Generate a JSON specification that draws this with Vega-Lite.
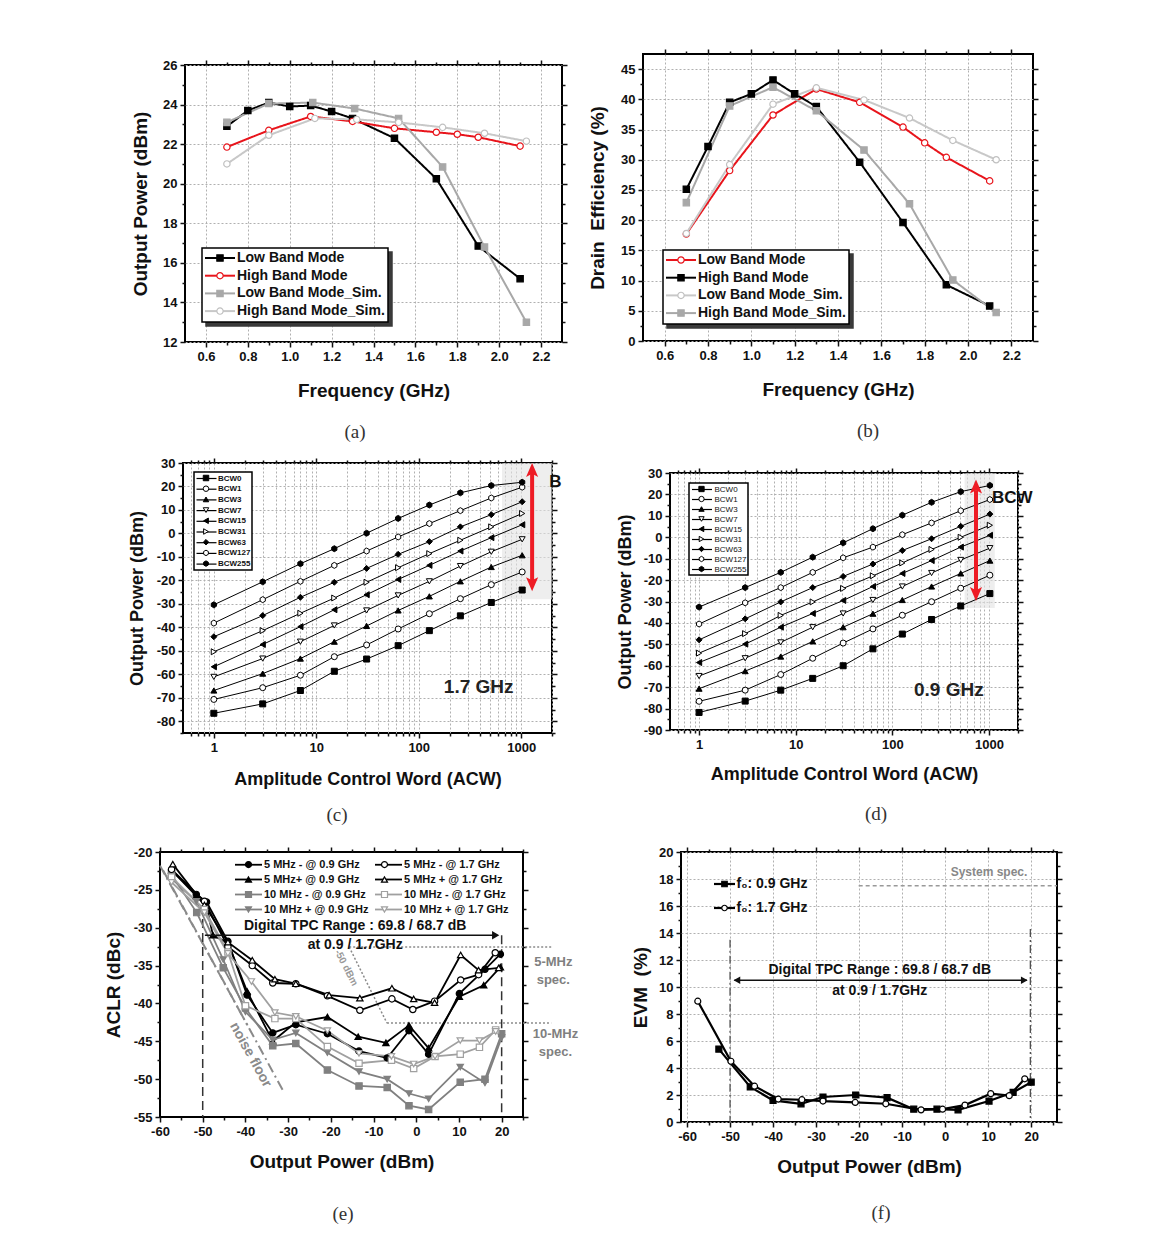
{
"$schema":"https://vega.github.io/schema/vega-lite/v6.json",
"background":"white",
"padding":{"left":103,"top":47,"right":5,"bottom":5},
"config":{
 "view":{"stroke":"black","strokeWidth":2},
 "font":"Liberation Sans",
 "axis":{"domain":false,"labelFont":"Liberation Sans","labelFontSize":13,"labelFontWeight":"bold","labelColor":"#111","titleFont":"Liberation Sans","titleFontSize":19,"titleFontWeight":"bold","titleColor":"#111","tickColor":"#111","tickWidth":1.5,"gridColor":"#b0b0b0","gridDash":[2,2],"gridWidth":1,"labelFlush":false,"labelOverlap":false,"labelPadding":3,"tickCount":1000},
 "legend":{"labelFont":"Liberation Sans","labelFontWeight":"bold","labelColor":"#111","labelLimit":400,"strokeWidth":1.5},
 "title":{"font":"Liberation Serif","fontSize":19,"fontWeight":"normal","orient":"bottom","color":"#333"},
 "text":{"font":"Liberation Sans"}
},
"resolve":{"scale":{"x":"independent","y":"independent","color":"independent","shape":"independent","fill":"independent","stroke":"independent","strokeDash":"independent"},"legend":{"color":"independent","shape":"independent","fill":"independent","stroke":"independent","strokeDash":"independent"}},
"bounds":"flush",
"spacing":380,
"vconcat":[
{
 "bounds":"flush","spacing":24,
 "resolve":{"scale":{"x":"independent","y":"independent","color":"independent","shape":"independent","fill":"independent","stroke":"independent","strokeDash":"independent"},"legend":{"color":"independent","shape":"independent","fill":"independent","stroke":"independent","strokeDash":"independent"}},
 "hconcat":[
  {"width":1,"height":1,"data":{"values":[{}]},"mark":{"type":"point","opacity":0},"view":{"stroke":null}},
  {"bounds":"flush","spacing":458,
   "resolve":{"scale":{"x":"independent","y":"independent","color":"independent","shape":"independent","fill":"independent","stroke":"independent","strokeDash":"independent"},"legend":{"color":"independent","shape":"independent","fill":"independent","stroke":"independent","strokeDash":"independent"}},
   "hconcat":[
    {"bounds":"flush","spacing":10,
     "resolve":{"scale":{"x":"independent","y":"independent","color":"independent","shape":"independent","fill":"independent","stroke":"independent","strokeDash":"independent"},"legend":{"color":"independent","shape":"independent","fill":"independent","stroke":"independent","strokeDash":"independent"}},
     "vconcat":[
      {"width":1,"height":1,"data":{"values":[{}]},"mark":{"type":"point","opacity":0},"view":{"stroke":null}},
      {"width":377,"height":277,
       "title":{"text":"(a)","dx":-18.5,"offset":23},
       "data":{"values":[
        {"s":"Low Band Mode","x":0.7,"y":22.9},{"s":"Low Band Mode","x":0.8,"y":23.7},{"s":"Low Band Mode","x":0.9,"y":24.1},{"s":"Low Band Mode","x":1.0,"y":23.9},{"s":"Low Band Mode","x":1.1,"y":23.95},{"s":"Low Band Mode","x":1.2,"y":23.65},{"s":"Low Band Mode","x":1.3,"y":23.3},{"s":"Low Band Mode","x":1.5,"y":22.3},{"s":"Low Band Mode","x":1.7,"y":20.25},{"s":"Low Band Mode","x":1.9,"y":16.85},{"s":"Low Band Mode","x":2.1,"y":15.2},
        {"s":"High Band Mode","x":0.7,"y":21.85},{"s":"High Band Mode","x":0.9,"y":22.7},{"s":"High Band Mode","x":1.1,"y":23.4},{"s":"High Band Mode","x":1.3,"y":23.15},{"s":"High Band Mode","x":1.5,"y":22.8},{"s":"High Band Mode","x":1.7,"y":22.6},{"s":"High Band Mode","x":1.8,"y":22.5},{"s":"High Band Mode","x":1.9,"y":22.35},{"s":"High Band Mode","x":2.1,"y":21.9},
        {"s":"Low Band Mode_Sim.","x":0.7,"y":23.1},{"s":"Low Band Mode_Sim.","x":0.9,"y":24.05},{"s":"Low Band Mode_Sim.","x":1.11,"y":24.1},{"s":"Low Band Mode_Sim.","x":1.31,"y":23.8},{"s":"Low Band Mode_Sim.","x":1.52,"y":23.3},{"s":"Low Band Mode_Sim.","x":1.73,"y":20.85},{"s":"Low Band Mode_Sim.","x":1.93,"y":16.8},{"s":"Low Band Mode_Sim.","x":2.13,"y":13.0},
        {"s":"High Band Mode_Sim.","x":0.7,"y":21.0},{"s":"High Band Mode_Sim.","x":0.9,"y":22.45},{"s":"High Band Mode_Sim.","x":1.12,"y":23.3},{"s":"High Band Mode_Sim.","x":1.32,"y":23.25},{"s":"High Band Mode_Sim.","x":1.52,"y":23.1},{"s":"High Band Mode_Sim.","x":1.73,"y":22.85},{"s":"High Band Mode_Sim.","x":1.93,"y":22.55},{"s":"High Band Mode_Sim.","x":2.13,"y":22.15}
       ]},
       "resolve":{"axis":{"x":"independent","y":"independent"}},
       "layer":[
        {"layer":[
        {"mark":{"type":"line","strokeWidth":2},
         "encoding":{
          "x":{"field":"x","type":"quantitative","scale":{"domain":[0.5,2.3],"nice":false,"zero":false},
               "axis":{"title":"Frequency (GHz)","tickCount":1000,"values":[0.6,0.7,0.8,0.9,1.0,1.1,1.2,1.3,1.4,1.5,1.6,1.7,1.8,1.9,2.0,2.1,2.2],"labelExpr":"abs(datum.value*5-round(datum.value*5))<0.01 ? format(datum.value,'.1f') : ''","tickSize":{"condition":{"test":"abs(datum.value*5-round(datum.value*5))<0.01","value":5},"value":3},"gridOpacity":{"condition":{"test":"abs(datum.value*5-round(datum.value*5))<0.01","value":1},"value":0},"titlePadding":18}},
          "y":{"field":"y","type":"quantitative","scale":{"domain":[12,26],"nice":false,"zero":false},
               "axis":{"title":"Output Power (dBm)","tickCount":1000,"values":[12,13,14,15,16,17,18,19,20,21,22,23,24,25,26],"labelExpr":"datum.value%2==0 ? ''+datum.value : ''","tickSize":{"condition":{"test":"datum.value%2==0","value":5},"value":3},"gridOpacity":{"condition":{"test":"datum.value%2==0","value":1},"value":0},"titlePadding":12}},
          "color":{"field":"s","type":"nominal","scale":{"domain":["Low Band Mode","High Band Mode","Low Band Mode_Sim.","High Band Mode_Sim."],"range":["#000000","#e8141b","#a8a8a8","#c8c8c8"]},
                   "legend":{"orient":"none","legendX":17,"legendY":183,"title":null,"padding":3,"rowPadding":3.7,"labelFontSize":14,"symbolType":"M-7.5,0H7.5","symbolSize":16,"symbolStrokeWidth":2,"symbolOffset":8,"labelOffset":10,"strokeColor":"black","fillColor":"white","zindex":1}},
          "strokeDash":{"field":"s","type":"nominal","scale":{"domain":["High Band Mode_Sim.","Low Band Mode_Sim.","High Band Mode","Low Band Mode"],"range":[[1,0],[1,0],[1,0],[1,0]]},
                   "legend":{"orient":"none","legendX":21,"legendY":187,"title":null,"padding":3,"rowPadding":3.7,"labelFontSize":14,"symbolType":"M-7.5,0H7.5","symbolSize":16,"symbolStrokeWidth":2,"symbolOffset":8,"labelOffset":10,"symbolOpacity":0,"labelOpacity":0,"strokeColor":"#3a3a3a","fillColor":"#3a3a3a","zindex":0}}}},
        {"mark":{"type":"point","filled":true,"size":40,"strokeWidth":1.2,"opacity":1},
         "encoding":{
          "x":{"field":"x","type":"quantitative","scale":{"domain":[0.5,2.3],"nice":false,"zero":false}},
          "y":{"field":"y","type":"quantitative","scale":{"domain":[12,26],"nice":false,"zero":false}},
          "shape":{"field":"s","type":"nominal","sort":null,"scale":{"range":["square","circle","square","circle"]},"legend":{"orient":"none","legendX":17,"legendY":183,"title":null,"padding":3,"rowPadding":3.7,"labelFontSize":14,"symbolSize":40,"symbolStrokeWidth":1.2,"symbolOffset":8,"labelOffset":10,"labelExpr":"''","zindex":2}},
          "fill":{"field":"s","type":"nominal","sort":null,"scale":{"range":["#000000","#ffffff","#a8a8a8","#ffffff"]},"legend":{"orient":"none","legendX":17,"legendY":183,"title":null,"padding":3,"rowPadding":3.7,"labelFontSize":14,"symbolSize":40,"symbolStrokeWidth":1.2,"symbolOffset":8,"labelOffset":10,"labelExpr":"''","zindex":2}},
          "stroke":{"field":"s","type":"nominal","sort":null,"scale":{"range":["#000000","#e8141b","#a8a8a8","#c0c0c0"]},"legend":{"orient":"none","legendX":17,"legendY":183,"title":null,"padding":3,"rowPadding":3.7,"labelFontSize":14,"symbolSize":40,"symbolStrokeWidth":1.2,"symbolOffset":8,"labelOffset":10,"labelExpr":"''","zindex":2}}}}
        ]},
        {"mark":{"type":"point","opacity":0},
         "encoding":{
          "x":{"field":"x","type":"quantitative","scale":{"domain":[0.5,2.3],"nice":false,"zero":false},"axis":{"orient":"top","labels":false,"title":null,"grid":false,"tickCount":1000,"values":[0.6,0.7,0.8,0.9,1.0,1.1,1.2,1.3,1.4,1.5,1.6,1.7,1.8,1.9,2.0,2.1,2.2],"tickSize":{"condition":{"test":"abs(datum.value*5-round(datum.value*5))<0.01","value":5},"value":3}}},
          "y":{"field":"y","type":"quantitative","scale":{"domain":[12,26],"nice":false,"zero":false},"axis":{"orient":"right","labels":false,"title":null,"grid":false,"tickCount":1000,"values":[12,13,14,15,16,17,18,19,20,21,22,23,24,25,26],"tickSize":{"condition":{"test":"datum.value%2==0","value":5},"value":3}}}}}
       ]}
     ]},
    {"width":390,"height":287,
     "title":{"text":"(b)","dx":30,"offset":23},
     "data":{"values":[
      {"s":"Low Band Mode","x":0.7,"y":17.7},{"s":"Low Band Mode","x":0.9,"y":28.2},{"s":"Low Band Mode","x":1.1,"y":37.4},{"s":"Low Band Mode","x":1.3,"y":41.7},{"s":"Low Band Mode","x":1.5,"y":39.5},{"s":"Low Band Mode","x":1.7,"y":35.4},{"s":"Low Band Mode","x":1.8,"y":32.8},{"s":"Low Band Mode","x":1.9,"y":30.4},{"s":"Low Band Mode","x":2.1,"y":26.5},
      {"s":"High Band Mode","x":0.7,"y":25.1},{"s":"High Band Mode","x":0.8,"y":32.2},{"s":"High Band Mode","x":0.9,"y":39.5},{"s":"High Band Mode","x":1.0,"y":40.9},{"s":"High Band Mode","x":1.1,"y":43.2},{"s":"High Band Mode","x":1.2,"y":40.9},{"s":"High Band Mode","x":1.3,"y":38.8},{"s":"High Band Mode","x":1.5,"y":29.6},{"s":"High Band Mode","x":1.7,"y":19.6},{"s":"High Band Mode","x":1.9,"y":9.3},{"s":"High Band Mode","x":2.1,"y":5.8},
      {"s":"Low Band Mode_Sim.","x":0.7,"y":17.8},{"s":"Low Band Mode_Sim.","x":0.9,"y":29.2},{"s":"Low Band Mode_Sim.","x":1.1,"y":39.2},{"s":"Low Band Mode_Sim.","x":1.3,"y":41.9},{"s":"Low Band Mode_Sim.","x":1.52,"y":39.9},{"s":"Low Band Mode_Sim.","x":1.73,"y":36.9},{"s":"Low Band Mode_Sim.","x":1.93,"y":33.2},{"s":"Low Band Mode_Sim.","x":2.13,"y":30.0},
      {"s":"High Band Mode_Sim.","x":0.7,"y":22.9},{"s":"High Band Mode_Sim.","x":0.9,"y":38.9},{"s":"High Band Mode_Sim.","x":1.1,"y":42.0},{"s":"High Band Mode_Sim.","x":1.3,"y":38.1},{"s":"High Band Mode_Sim.","x":1.52,"y":31.6},{"s":"High Band Mode_Sim.","x":1.73,"y":22.7},{"s":"High Band Mode_Sim.","x":1.93,"y":10.1},{"s":"High Band Mode_Sim.","x":2.13,"y":4.7}
     ]},
     "resolve":{"axis":{"x":"independent","y":"independent"}},
     "layer":[
      {"layer":[
      {"mark":{"type":"line","strokeWidth":2},
       "encoding":{
        "x":{"field":"x","type":"quantitative","scale":{"domain":[0.5,2.3],"nice":false,"zero":false},
             "axis":{"title":"Frequency (GHz)","tickCount":1000,"values":[0.6,0.7,0.8,0.9,1.0,1.1,1.2,1.3,1.4,1.5,1.6,1.7,1.8,1.9,2.0,2.1,2.2],"labelExpr":"abs(datum.value*5-round(datum.value*5))<0.01 ? format(datum.value,'.1f') : ''","tickSize":{"condition":{"test":"abs(datum.value*5-round(datum.value*5))<0.01","value":5},"value":3},"gridOpacity":{"condition":{"test":"abs(datum.value*5-round(datum.value*5))<0.01","value":1},"value":0},"titlePadding":18}},
        "y":{"field":"y","type":"quantitative","scale":{"domain":[0,47.5],"nice":false,"zero":false},
             "axis":{"title":"Drain\u00a0\u00a0Efficiency (%)","tickCount":1000,"values":[0,2.5,5,7.5,10,12.5,15,17.5,20,22.5,25,27.5,30,32.5,35,37.5,40,42.5,45],"labelExpr":"datum.value%5==0 ? ''+datum.value : ''","tickSize":{"condition":{"test":"datum.value%5==0","value":5},"value":3},"gridOpacity":{"condition":{"test":"datum.value%5==0","value":1},"value":0},"titlePadding":13}},
        "color":{"field":"s","type":"nominal","scale":{"domain":["Low Band Mode","High Band Mode","Low Band Mode_Sim.","High Band Mode_Sim."],"range":["#e8141b","#000000","#c8c8c8","#a8a8a8"]},
                 "legend":{"orient":"none","legendX":20,"legendY":196,"title":null,"padding":3,"rowPadding":3.7,"labelFontSize":14,"symbolType":"M-7.5,0H7.5","symbolSize":16,"symbolStrokeWidth":2,"symbolOffset":8,"labelOffset":10,"strokeColor":"black","fillColor":"white","zindex":1}},
        "strokeDash":{"field":"s","type":"nominal","scale":{"domain":["High Band Mode_Sim.","Low Band Mode_Sim.","High Band Mode","Low Band Mode"],"range":[[1,0],[1,0],[1,0],[1,0]]},
                 "legend":{"orient":"none","legendX":24,"legendY":200,"title":null,"padding":3,"rowPadding":3.7,"labelFontSize":14,"symbolType":"M-7.5,0H7.5","symbolSize":16,"symbolStrokeWidth":2,"symbolOffset":8,"labelOffset":10,"symbolOpacity":0,"labelOpacity":0,"strokeColor":"#3a3a3a","fillColor":"#3a3a3a","zindex":0}}}},
      {"mark":{"type":"point","filled":true,"size":40,"strokeWidth":1.2,"opacity":1},
       "encoding":{
        "x":{"field":"x","type":"quantitative","scale":{"domain":[0.5,2.3],"nice":false,"zero":false}},
        "y":{"field":"y","type":"quantitative","scale":{"domain":[0,47.5],"nice":false,"zero":false}},
        "shape":{"field":"s","type":"nominal","sort":null,"scale":{"range":["circle","square","circle","square"]},"legend":{"orient":"none","legendX":20,"legendY":196,"title":null,"padding":3,"rowPadding":3.7,"labelFontSize":14,"symbolSize":40,"symbolStrokeWidth":1.2,"symbolOffset":8,"labelOffset":10,"labelExpr":"''","zindex":2}},
        "fill":{"field":"s","type":"nominal","sort":null,"scale":{"range":["#ffffff","#000000","#ffffff","#a8a8a8"]},"legend":{"orient":"none","legendX":20,"legendY":196,"title":null,"padding":3,"rowPadding":3.7,"labelFontSize":14,"symbolSize":40,"symbolStrokeWidth":1.2,"symbolOffset":8,"labelOffset":10,"labelExpr":"''","zindex":2}},
        "stroke":{"field":"s","type":"nominal","sort":null,"scale":{"range":["#e8141b","#000000","#c0c0c0","#a8a8a8"]},"legend":{"orient":"none","legendX":20,"legendY":196,"title":null,"padding":3,"rowPadding":3.7,"labelFontSize":14,"symbolSize":40,"symbolStrokeWidth":1.2,"symbolOffset":8,"labelOffset":10,"labelExpr":"''","zindex":2}}}}
      ]},
      {"mark":{"type":"point","opacity":0},
       "encoding":{
        "x":{"field":"x","type":"quantitative","scale":{"domain":[0.5,2.3],"nice":false,"zero":false},"axis":{"orient":"top","labels":false,"title":null,"grid":false,"tickCount":1000,"values":[0.6,0.7,0.8,0.9,1.0,1.1,1.2,1.3,1.4,1.5,1.6,1.7,1.8,1.9,2.0,2.1,2.2],"tickSize":{"condition":{"test":"abs(datum.value*5-round(datum.value*5))<0.01","value":5},"value":3}}},
        "y":{"field":"y","type":"quantitative","scale":{"domain":[0,47.5],"nice":false,"zero":false},"axis":{"orient":"right","labels":false,"title":null,"grid":false,"tickCount":1000,"values":[0,2.5,5,7.5,10,12.5,15,17.5,20,22.5,25,27.5,30,32.5,35,37.5,40,42.5,45],"tickSize":{"condition":{"test":"datum.value%5==0","value":5},"value":3}}}}}
     ]}
   ]}
 ]
},
{
 "bounds":"flush","spacing":28,
 "resolve":{"scale":{"x":"independent","y":"independent","color":"independent","shape":"independent","fill":"independent","stroke":"independent","strokeDash":"independent"},"legend":{"color":"independent","shape":"independent","fill":"independent","stroke":"independent","strokeDash":"independent"}},
 "vconcat":[
 {"width":1,"height":1,"data":{"values":[{}]},"mark":{"type":"point","opacity":0},"view":{"stroke":null}},
 {
 "bounds":"flush","spacing":22,
 "resolve":{"scale":{"x":"independent","y":"independent","color":"independent","shape":"independent","fill":"independent","stroke":"independent","strokeDash":"independent"},"legend":{"color":"independent","shape":"independent","fill":"independent","stroke":"independent","strokeDash":"independent"}},
 "hconcat":[
  {"width":1,"height":1,"data":{"values":[{}]},"mark":{"type":"point","opacity":0},"view":{"stroke":null}},
  {"bounds":"flush","spacing":118,
   "resolve":{"scale":{"x":"independent","y":"independent","color":"independent","shape":"independent","fill":"independent","stroke":"independent","strokeDash":"independent"},"legend":{"color":"independent","shape":"independent","fill":"independent","stroke":"independent","strokeDash":"independent"}},
   "hconcat":[
    {"width":369,"height":270,
     "title":{"text":"(c)","dx":-30.5,"offset":18},
     "data":{"values":[
      {"s":"BCW0","x":1,"y":-76.6},{"s":"BCW0","x":3,"y":-72.6},{"s":"BCW0","x":7,"y":-66.9},{"s":"BCW0","x":15,"y":-58.7},{"s":"BCW0","x":31,"y":-53.5},{"s":"BCW0","x":63,"y":-47.8},{"s":"BCW0","x":127,"y":-41.4},{"s":"BCW0","x":255,"y":-35.1},{"s":"BCW0","x":511,"y":-29.4},{"s":"BCW0","x":1023,"y":-24.1},
      {"s":"BCW1","x":1,"y":-70.7},{"s":"BCW1","x":3,"y":-65.7},{"s":"BCW1","x":7,"y":-60.4},{"s":"BCW1","x":15,"y":-52.5},{"s":"BCW1","x":31,"y":-47.5},{"s":"BCW1","x":63,"y":-40.7},{"s":"BCW1","x":127,"y":-34.2},{"s":"BCW1","x":255,"y":-27.8},{"s":"BCW1","x":511,"y":-21.8},{"s":"BCW1","x":1023,"y":-16.4},
      {"s":"BCW3","x":1,"y":-66.9},{"s":"BCW3","x":3,"y":-59.7},{"s":"BCW3","x":7,"y":-53.3},{"s":"BCW3","x":15,"y":-46.1},{"s":"BCW3","x":31,"y":-39.4},{"s":"BCW3","x":63,"y":-32.8},{"s":"BCW3","x":127,"y":-26.8},{"s":"BCW3","x":255,"y":-20.4},{"s":"BCW3","x":511,"y":-14.3},{"s":"BCW3","x":1023,"y":-9.3},
      {"s":"BCW7","x":1,"y":-61.1},{"s":"BCW7","x":3,"y":-53.3},{"s":"BCW7","x":7,"y":-46.1},{"s":"BCW7","x":15,"y":-39.2},{"s":"BCW7","x":31,"y":-32.8},{"s":"BCW7","x":63,"y":-26.4},{"s":"BCW7","x":127,"y":-20.4},{"s":"BCW7","x":255,"y":-13.9},{"s":"BCW7","x":511,"y":-7.8},{"s":"BCW7","x":1023,"y":-2.5},
      {"s":"BCW15","x":1,"y":-56.8},{"s":"BCW15","x":3,"y":-47.3},{"s":"BCW15","x":7,"y":-39.7},{"s":"BCW15","x":15,"y":-32.5},{"s":"BCW15","x":31,"y":-26.1},{"s":"BCW15","x":63,"y":-19.6},{"s":"BCW15","x":127,"y":-13.6},{"s":"BCW15","x":255,"y":-7.5},{"s":"BCW15","x":511,"y":-1.8},{"s":"BCW15","x":1023,"y":3.7},
      {"s":"BCW31","x":1,"y":-50.4},{"s":"BCW31","x":3,"y":-41.4},{"s":"BCW31","x":7,"y":-34.0},{"s":"BCW31","x":15,"y":-27.5},{"s":"BCW31","x":31,"y":-20.8},{"s":"BCW31","x":63,"y":-14.6},{"s":"BCW31","x":127,"y":-8.6},{"s":"BCW31","x":255,"y":-2.9},{"s":"BCW31","x":511,"y":2.8},{"s":"BCW31","x":1023,"y":8.5},
      {"s":"BCW63","x":1,"y":-44.0},{"s":"BCW63","x":3,"y":-35.0},{"s":"BCW63","x":7,"y":-27.2},{"s":"BCW63","x":15,"y":-20.8},{"s":"BCW63","x":31,"y":-14.9},{"s":"BCW63","x":63,"y":-8.9},{"s":"BCW63","x":127,"y":-3.5},{"s":"BCW63","x":255,"y":2.8},{"s":"BCW63","x":511,"y":8.0},{"s":"BCW63","x":1023,"y":13.5},
      {"s":"BCW127","x":1,"y":-38.2},{"s":"BCW127","x":3,"y":-28.2},{"s":"BCW127","x":7,"y":-20.4},{"s":"BCW127","x":15,"y":-13.6},{"s":"BCW127","x":31,"y":-7.5},{"s":"BCW127","x":63,"y":-1.5},{"s":"BCW127","x":127,"y":4.2},{"s":"BCW127","x":255,"y":9.7},{"s":"BCW127","x":511,"y":15.1},{"s":"BCW127","x":1023,"y":19.7},
      {"s":"BCW255","x":1,"y":-30.4},{"s":"BCW255","x":3,"y":-20.6},{"s":"BCW255","x":7,"y":-12.9},{"s":"BCW255","x":15,"y":-6.5},{"s":"BCW255","x":31,"y":0.1},{"s":"BCW255","x":63,"y":6.4},{"s":"BCW255","x":127,"y":12.1},{"s":"BCW255","x":255,"y":17.3},{"s":"BCW255","x":511,"y":20.4},{"s":"BCW255","x":1023,"y":21.8}
     ]},
     "resolve":{"axis":{"x":"independent","y":"independent"}},
     "layer":[
      {"layer":[
      {"data":{"values":[{"x":650,"x2":2000,"y":-28,"y2":30}]},
       "mark":{"type":"rect","color":"#e2e2e2","opacity":0.6},
       "encoding":{
        "x":{"field":"x","type":"quantitative","scale":{"type":"log","domain":[0.5,2000],"nice":false},
             "axis":{"title":"Amplitude Control Word (ACW)","titleFontSize":18,"tickCount":1000,"values":[0.6,0.7,0.8,0.9,1,2,3,4,5,6,7,8,9,10,20,30,40,50,60,70,80,90,100,200,300,400,500,600,700,800,900,1000,2000],"labelExpr":"indexof([1,10,100,1000],datum.value)>=0 ? ''+datum.value : ''","tickSize":{"condition":{"test":"indexof([1,10,100,1000],datum.value)>=0","value":5},"value":3},"titlePadding":16}},
        "x2":{"field":"x2"},
        "y":{"field":"y","type":"quantitative","scale":{"domain":[-85,30],"nice":false,"zero":false},
             "axis":{"title":"Output Power (dBm)","titleFontSize":18,"tickCount":1000,"values":[-85,-80,-75,-70,-65,-60,-55,-50,-45,-40,-35,-30,-25,-20,-15,-10,-5,0,5,10,15,20,25,30],"labelExpr":"datum.value%10==0 ? ''+datum.value : ''","tickSize":{"condition":{"test":"datum.value%10==0","value":5},"value":3},"gridOpacity":{"condition":{"test":"datum.value%10==0","value":1},"value":0},"titlePadding":10}},
        "y2":{"field":"y2"}}},
      {"mark":{"type":"line","strokeWidth":1},
       "encoding":{
        "x":{"field":"x","type":"quantitative","scale":{"type":"log","domain":[0.5,2000],"nice":false}},
        "y":{"field":"y","type":"quantitative","scale":{"domain":[-85,30],"nice":false,"zero":false}},
        "color":{"field":"s","type":"nominal","scale":{"domain":["BCW0","BCW1","BCW3","BCW7","BCW15","BCW31","BCW63","BCW127","BCW255"],"range":["#000","#000","#000","#000","#000","#000","#000","#000","#000"]},
                 "legend":{"orient":"none","legendX":11,"legendY":9,"title":null,"padding":1,"rowPadding":0.7,"labelFontSize":8,"symbolType":"M-2.222,0H2.222","symbolSize":81,"symbolStrokeWidth":1.2,"symbolOffset":6,"labelOffset":6,"strokeColor":"black","fillColor":"white"}}}},
      {"mark":{"type":"point","filled":true,"size":36,"strokeWidth":1,"opacity":1},
       "encoding":{
        "x":{"field":"x","type":"quantitative","scale":{"type":"log","domain":[0.5,2000],"nice":false}},
        "y":{"field":"y","type":"quantitative","scale":{"domain":[-85,30],"nice":false,"zero":false}},
        "shape":{"field":"s","type":"nominal","sort":null,"scale":{"range":["square","circle","triangle-up","triangle-down","triangle-left","triangle-right","diamond","M0,-1L0.866,-0.5L0.866,0.5L0,1L-0.866,0.5L-0.866,-0.5Z","M0,-1L0.866,-0.5L0.866,0.5L0,1L-0.866,0.5L-0.866,-0.5Z"]},"legend":{"orient":"none","legendX":11,"legendY":9,"title":null,"padding":1,"rowPadding":0.7,"labelFontSize":10,"symbolSize":30,"symbolStrokeWidth":1,"symbolOffset":6,"labelOffset":6,"labelExpr":"''"}},
        "fill":{"field":"s","type":"nominal","sort":null,"scale":{"range":["#000","#fff","#000","#fff","#000","#fff","#000","#fff","#000"]},"legend":{"orient":"none","legendX":11,"legendY":9,"title":null,"padding":1,"rowPadding":0.7,"labelFontSize":10,"symbolSize":30,"symbolStrokeWidth":1,"symbolOffset":6,"labelOffset":6,"labelExpr":"''"}},
        "stroke":{"field":"s","type":"nominal","sort":null,"scale":{"range":["#000","#000","#000","#000","#000","#000","#000","#000","#000"]},"legend":{"orient":"none","legendX":11,"legendY":9,"title":null,"padding":1,"rowPadding":0.7,"labelFontSize":10,"symbolSize":30,"symbolStrokeWidth":1,"symbolOffset":6,"labelOffset":6,"labelExpr":"''"}}}},
      {"data":{"values":[{"x":1279,"y":-21,"y2":26}]},
       "mark":{"type":"rule","color":"#ee1c25","strokeWidth":4},
       "encoding":{"x":{"field":"x","type":"quantitative","scale":{"type":"log","domain":[0.5,2000],"nice":false}},"y":{"field":"y","type":"quantitative","scale":{"domain":[-85,30],"nice":false,"zero":false}},"y2":{"field":"y2"}}},
      {"data":{"values":[{"x":1279,"y":26.3}]},
       "mark":{"type":"point","shape":"M0,-1L0.7,0.6L0,0.25L-0.7,0.6Z","size":300,"filled":true,"color":"#ee1c25","opacity":1},
       "encoding":{"x":{"field":"x","type":"quantitative","scale":{"type":"log","domain":[0.5,2000],"nice":false}},"y":{"field":"y","type":"quantitative","scale":{"domain":[-85,30],"nice":false,"zero":false}}}},
      {"data":{"values":[{"x":1279,"y":-20.9}]},
       "mark":{"type":"point","shape":"M0,1L0.7,-0.6L0,-0.25L-0.7,-0.6Z","size":300,"filled":true,"color":"#ee1c25","opacity":1},
       "encoding":{"x":{"field":"x","type":"quantitative","scale":{"type":"log","domain":[0.5,2000],"nice":false}},"y":{"field":"y","type":"quantitative","scale":{"domain":[-85,30],"nice":false,"zero":false}}}},
      {"data":{"values":[{"x":385,"y":-65.5,"t":"1.7 GHz"}]},
       "mark":{"type":"text","fontSize":19,"fontWeight":"bold","color":"#222"},
       "encoding":{"x":{"field":"x","type":"quantitative","scale":{"type":"log","domain":[0.5,2000],"nice":false}},"y":{"field":"y","type":"quantitative","scale":{"domain":[-85,30],"nice":false,"zero":false}},"text":{"field":"t"}}},
      {"data":{"values":[{"x":1880,"y":21.9,"t":"B"}]},
       "mark":{"type":"text","fontSize":17,"fontWeight":"bold","color":"#111","align":"left"},
       "encoding":{"x":{"field":"x","type":"quantitative","scale":{"type":"log","domain":[0.5,2000],"nice":false}},"y":{"field":"y","type":"quantitative","scale":{"domain":[-85,30],"nice":false,"zero":false}},"text":{"field":"t"}}}
      ]},
      {"mark":{"type":"point","opacity":0},
       "encoding":{
        "x":{"field":"x","type":"quantitative","scale":{"type":"log","domain":[0.5,2000],"nice":false},"axis":{"orient":"top","labels":false,"title":null,"grid":false,"tickCount":1000,"values":[0.6,0.7,0.8,0.9,1,2,3,4,5,6,7,8,9,10,20,30,40,50,60,70,80,90,100,200,300,400,500,600,700,800,900,1000,2000],"tickSize":{"condition":{"test":"indexof([1,10,100,1000],datum.value)>=0","value":5},"value":3}}},
        "y":{"field":"y","type":"quantitative","scale":{"domain":[-85,30],"nice":false,"zero":false},"axis":{"orient":"right","labels":false,"title":null,"grid":false,"tickCount":1000,"values":[-85,-80,-75,-70,-65,-60,-55,-50,-45,-40,-35,-30,-25,-20,-15,-10,-5,0,5,10,15,20,25,30],"tickSize":{"condition":{"test":"datum.value%10==0","value":5},"value":3}}}}}
     ]},
    {"bounds":"flush","spacing":9,
     "resolve":{"scale":{"x":"independent","y":"independent","color":"independent","shape":"independent","fill":"independent","stroke":"independent","strokeDash":"independent"},"legend":{"color":"independent","shape":"independent","fill":"independent","stroke":"independent","strokeDash":"independent"}},
     "vconcat":[
      {"width":1,"height":1,"data":{"values":[{}]},"mark":{"type":"point","opacity":0},"view":{"stroke":null}},
      {"width":348,"height":257,
       "title":{"text":"(d)","dx":32,"offset":22},
       "data":{"values":[
        {"s":"BCW0","x":1,"y":-81.8},{"s":"BCW0","x":3,"y":-76.5},{"s":"BCW0","x":7,"y":-71.4},{"s":"BCW0","x":15,"y":-65.9},{"s":"BCW0","x":31,"y":-60.0},{"s":"BCW0","x":63,"y":-52.1},{"s":"BCW0","x":127,"y":-45.2},{"s":"BCW0","x":255,"y":-38.4},{"s":"BCW0","x":511,"y":-32.1},{"s":"BCW0","x":1023,"y":-26.3},
        {"s":"BCW1","x":1,"y":-76.6},{"s":"BCW1","x":3,"y":-71.4},{"s":"BCW1","x":7,"y":-64.1},{"s":"BCW1","x":15,"y":-56.5},{"s":"BCW1","x":31,"y":-49.4},{"s":"BCW1","x":63,"y":-42.8},{"s":"BCW1","x":127,"y":-36.4},{"s":"BCW1","x":255,"y":-30.1},{"s":"BCW1","x":511,"y":-23.8},{"s":"BCW1","x":1023,"y":-17.7},
        {"s":"BCW3","x":1,"y":-70.7},{"s":"BCW3","x":3,"y":-62.5},{"s":"BCW3","x":7,"y":-55.7},{"s":"BCW3","x":15,"y":-48.6},{"s":"BCW3","x":31,"y":-42.0},{"s":"BCW3","x":63,"y":-35.7},{"s":"BCW3","x":127,"y":-29.3},{"s":"BCW3","x":255,"y":-23.0},{"s":"BCW3","x":511,"y":-16.9},{"s":"BCW3","x":1023,"y":-10.9},
        {"s":"BCW7","x":1,"y":-64.8},{"s":"BCW7","x":3,"y":-56.5},{"s":"BCW7","x":7,"y":-49.1},{"s":"BCW7","x":15,"y":-42.0},{"s":"BCW7","x":31,"y":-35.6},{"s":"BCW7","x":63,"y":-29.3},{"s":"BCW7","x":127,"y":-23.0},{"s":"BCW7","x":255,"y":-16.7},{"s":"BCW7","x":511,"y":-10.6},{"s":"BCW7","x":1023,"y":-5.1},
        {"s":"BCW15","x":1,"y":-58.5},{"s":"BCW15","x":3,"y":-49.9},{"s":"BCW15","x":7,"y":-42.0},{"s":"BCW15","x":15,"y":-35.6},{"s":"BCW15","x":31,"y":-29.5},{"s":"BCW15","x":63,"y":-23.0},{"s":"BCW15","x":127,"y":-16.9},{"s":"BCW15","x":255,"y":-10.9},{"s":"BCW15","x":511,"y":-4.6},{"s":"BCW15","x":1023,"y":0.9},
        {"s":"BCW31","x":1,"y":-54.1},{"s":"BCW31","x":3,"y":-45.0},{"s":"BCW31","x":7,"y":-36.5},{"s":"BCW31","x":15,"y":-30.2},{"s":"BCW31","x":31,"y":-23.9},{"s":"BCW31","x":63,"y":-18.0},{"s":"BCW31","x":127,"y":-12.0},{"s":"BCW31","x":255,"y":-5.7},{"s":"BCW31","x":511,"y":0.0},{"s":"BCW31","x":1023,"y":5.6},
        {"s":"BCW63","x":1,"y":-47.9},{"s":"BCW63","x":3,"y":-38.1},{"s":"BCW63","x":7,"y":-30.2},{"s":"BCW63","x":15,"y":-23.5},{"s":"BCW63","x":31,"y":-18.3},{"s":"BCW63","x":63,"y":-12.5},{"s":"BCW63","x":127,"y":-6.2},{"s":"BCW63","x":255,"y":-0.7},{"s":"BCW63","x":511,"y":5.1},{"s":"BCW63","x":1023,"y":10.8},
        {"s":"BCW127","x":1,"y":-40.5},{"s":"BCW127","x":3,"y":-30.6},{"s":"BCW127","x":7,"y":-23.5},{"s":"BCW127","x":15,"y":-16.4},{"s":"BCW127","x":31,"y":-9.6},{"s":"BCW127","x":63,"y":-4.6},{"s":"BCW127","x":127,"y":1.2},{"s":"BCW127","x":255,"y":6.7},{"s":"BCW127","x":511,"y":12.4},{"s":"BCW127","x":1023,"y":17.6},
        {"s":"BCW255","x":1,"y":-32.6},{"s":"BCW255","x":3,"y":-23.5},{"s":"BCW255","x":7,"y":-16.4},{"s":"BCW255","x":15,"y":-9.3},{"s":"BCW255","x":31,"y":-2.6},{"s":"BCW255","x":63,"y":4.0},{"s":"BCW255","x":127,"y":10.3},{"s":"BCW255","x":255,"y":16.3},{"s":"BCW255","x":511,"y":21.3},{"s":"BCW255","x":1023,"y":24.2}
       ]},
       "resolve":{"axis":{"x":"independent","y":"independent"}},
       "layer":[
        {"layer":[
        {"data":{"values":[{"x":560,"x2":1150,"y":-33,"y2":30}]},
         "mark":{"type":"rect","color":"#e2e2e2","opacity":0.6},
         "encoding":{
          "x":{"field":"x","type":"quantitative","scale":{"type":"log","domain":[0.5,2000],"nice":false},
               "axis":{"title":"Amplitude Control Word (ACW)","titleFontSize":18,"tickCount":1000,"values":[0.6,0.7,0.8,0.9,1,2,3,4,5,6,7,8,9,10,20,30,40,50,60,70,80,90,100,200,300,400,500,600,700,800,900,1000,2000],"labelExpr":"indexof([1,10,100,1000],datum.value)>=0 ? ''+datum.value : ''","tickSize":{"condition":{"test":"indexof([1,10,100,1000],datum.value)>=0","value":5},"value":3},"titlePadding":14}},
          "x2":{"field":"x2"},
          "y":{"field":"y","type":"quantitative","scale":{"domain":[-90,30],"nice":false,"zero":false},
               "axis":{"title":"Output Power (dBm)","titleFontSize":18,"tickCount":1000,"values":[-90,-85,-80,-75,-70,-65,-60,-55,-50,-45,-40,-35,-30,-25,-20,-15,-10,-5,0,5,10,15,20,25,30],"labelExpr":"datum.value%10==0 ? ''+datum.value : ''","tickSize":{"condition":{"test":"datum.value%10==0","value":5},"value":3},"gridOpacity":{"condition":{"test":"datum.value%10==0","value":1},"value":0},"titlePadding":9}},
          "y2":{"field":"y2"}}},
        {"mark":{"type":"line","strokeWidth":1},
         "encoding":{
          "x":{"field":"x","type":"quantitative","scale":{"type":"log","domain":[0.5,2000],"nice":false}},
          "y":{"field":"y","type":"quantitative","scale":{"domain":[-90,30],"nice":false,"zero":false}},
          "color":{"field":"s","type":"nominal","scale":{"domain":["BCW0","BCW1","BCW3","BCW7","BCW15","BCW31","BCW63","BCW127","BCW255"],"range":["#000","#000","#000","#000","#000","#000","#000","#000","#000"]},
                   "legend":{"orient":"none","legendX":19,"legendY":10,"title":null,"padding":1,"rowPadding":-0.6,"labelFontSize":8,"labelFontWeight":"normal","symbolType":"M-2.222,0H2.222","symbolSize":81,"symbolStrokeWidth":1.2,"symbolOffset":6.5,"labelOffset":7,"strokeColor":"black","fillColor":"white"}}}},
        {"mark":{"type":"point","filled":true,"size":36,"strokeWidth":1,"opacity":1},
         "encoding":{
          "x":{"field":"x","type":"quantitative","scale":{"type":"log","domain":[0.5,2000],"nice":false}},
          "y":{"field":"y","type":"quantitative","scale":{"domain":[-90,30],"nice":false,"zero":false}},
          "shape":{"field":"s","type":"nominal","sort":null,"scale":{"range":["square","circle","triangle-up","triangle-down","triangle-left","triangle-right","diamond","M0,-1L0.866,-0.5L0.866,0.5L0,1L-0.866,0.5L-0.866,-0.5Z","M0,-1L0.866,-0.5L0.866,0.5L0,1L-0.866,0.5L-0.866,-0.5Z"]},"legend":{"orient":"none","legendX":19,"legendY":10,"title":null,"padding":1,"rowPadding":-0.6,"labelFontSize":10,"labelFontWeight":"normal","symbolSize":28,"symbolStrokeWidth":1,"symbolOffset":6.5,"labelOffset":7,"labelExpr":"''"}},
          "fill":{"field":"s","type":"nominal","sort":null,"scale":{"range":["#000","#fff","#000","#fff","#000","#fff","#000","#fff","#000"]},"legend":{"orient":"none","legendX":19,"legendY":10,"title":null,"padding":1,"rowPadding":-0.6,"labelFontSize":10,"labelFontWeight":"normal","symbolSize":28,"symbolStrokeWidth":1,"symbolOffset":6.5,"labelOffset":7,"labelExpr":"''"}},
          "stroke":{"field":"s","type":"nominal","sort":null,"scale":{"range":["#000","#000","#000","#000","#000","#000","#000","#000","#000"]},"legend":{"orient":"none","legendX":19,"legendY":10,"title":null,"padding":1,"rowPadding":-0.6,"labelFontSize":10,"labelFontWeight":"normal","symbolSize":28,"symbolStrokeWidth":1,"symbolOffset":6.5,"labelOffset":7,"labelExpr":"''"}}}},
        {"data":{"values":[{"x":735,"y":-25,"y2":22}]},
         "mark":{"type":"rule","color":"#ee1c25","strokeWidth":4},
         "encoding":{"x":{"field":"x","type":"quantitative","scale":{"type":"log","domain":[0.5,2000],"nice":false}},"y":{"field":"y","type":"quantitative","scale":{"domain":[-90,30],"nice":false,"zero":false}},"y2":{"field":"y2"}}},
        {"data":{"values":[{"x":735,"y":22.9}]},
         "mark":{"type":"point","shape":"M0,-1L0.7,0.6L0,0.25L-0.7,0.6Z","size":300,"filled":true,"color":"#ee1c25","opacity":1},
         "encoding":{"x":{"field":"x","type":"quantitative","scale":{"type":"log","domain":[0.5,2000],"nice":false}},"y":{"field":"y","type":"quantitative","scale":{"domain":[-90,30],"nice":false,"zero":false}}}},
        {"data":{"values":[{"x":735,"y":-25.7}]},
         "mark":{"type":"point","shape":"M0,1L0.7,-0.6L0,-0.25L-0.7,-0.6Z","size":300,"filled":true,"color":"#ee1c25","opacity":1},
         "encoding":{"x":{"field":"x","type":"quantitative","scale":{"type":"log","domain":[0.5,2000],"nice":false}},"y":{"field":"y","type":"quantitative","scale":{"domain":[-90,30],"nice":false,"zero":false}}}},
        {"data":{"values":[{"x":385,"y":-71.3,"t":"0.9 GHz"}]},
         "mark":{"type":"text","fontSize":19,"fontWeight":"bold","color":"#222"},
         "encoding":{"x":{"field":"x","type":"quantitative","scale":{"type":"log","domain":[0.5,2000],"nice":false}},"y":{"field":"y","type":"quantitative","scale":{"domain":[-90,30],"nice":false,"zero":false}},"text":{"field":"t"}}},
        {"data":{"values":[{"x":1077,"y":18.4,"t":"BCW"}]},
         "mark":{"type":"text","fontSize":17,"fontWeight":"bold","color":"#111","align":"left"},
         "encoding":{"x":{"field":"x","type":"quantitative","scale":{"type":"log","domain":[0.5,2000],"nice":false}},"y":{"field":"y","type":"quantitative","scale":{"domain":[-90,30],"nice":false,"zero":false}},"text":{"field":"t"}}}
        ]},
        {"mark":{"type":"point","opacity":0},
         "encoding":{
          "x":{"field":"x","type":"quantitative","scale":{"type":"log","domain":[0.5,2000],"nice":false},"axis":{"orient":"top","labels":false,"title":null,"grid":false,"tickCount":1000,"values":[0.6,0.7,0.8,0.9,1,2,3,4,5,6,7,8,9,10,20,30,40,50,60,70,80,90,100,200,300,400,500,600,700,800,900,1000,2000],"tickSize":{"condition":{"test":"indexof([1,10,100,1000],datum.value)>=0","value":5},"value":3}}},
          "y":{"field":"y","type":"quantitative","scale":{"domain":[-90,30],"nice":false,"zero":false},"axis":{"orient":"right","labels":false,"title":null,"grid":false,"tickCount":1000,"values":[-90,-85,-80,-75,-70,-65,-60,-55,-50,-45,-40,-35,-30,-25,-20,-15,-10,-5,0,5,10,15,20,25,30],"tickSize":{"condition":{"test":"datum.value%10==0","value":5},"value":3}}}}}
       ]}
     ]}
   ]}
 ]
 }
 ]
},
{
 "bounds":"flush","spacing":37,
 "resolve":{"scale":{"x":"independent","y":"independent","color":"independent","shape":"independent","fill":"independent","stroke":"independent","strokeDash":"independent"},"legend":{"color":"independent","shape":"independent","fill":"independent","stroke":"independent","strokeDash":"independent"}},
 "vconcat":[
 {"width":1,"height":1,"data":{"values":[{}]},"mark":{"type":"point","opacity":0},"view":{"stroke":null}},
 {
 "bounds":"flush","spacing":158,
 "resolve":{"scale":{"x":"independent","y":"independent","color":"independent","shape":"independent","fill":"independent","stroke":"independent","strokeDash":"independent"},"legend":{"color":"independent","shape":"independent","fill":"independent","stroke":"independent","strokeDash":"independent"}},
 "hconcat":[
  {"width":363,"height":265,
   "title":{"text":"(e)","dx":1.5,"offset":34},
   "data":{"values":[
    {"s":"5 MHz - @ 0.9 GHz","x":-57.3,"y":-22.4},{"s":"5 MHz - @ 0.9 GHz","x":-51.5,"y":-25.6},{"s":"5 MHz - @ 0.9 GHz","x":-49.1,"y":-26.6},{"s":"5 MHz - @ 0.9 GHz","x":-44.1,"y":-31.8},{"s":"5 MHz - @ 0.9 GHz","x":-39.6,"y":-38.9},{"s":"5 MHz - @ 0.9 GHz","x":-33.6,"y":-43.9},{"s":"5 MHz - @ 0.9 GHz","x":-28.2,"y":-42.8},{"s":"5 MHz - @ 0.9 GHz","x":-20.8,"y":-44.0},{"s":"5 MHz - @ 0.9 GHz","x":-13.4,"y":-46.3},{"s":"5 MHz - @ 0.9 GHz","x":-6.8,"y":-47.2},{"s":"5 MHz - @ 0.9 GHz","x":-1.7,"y":-43.6},{"s":"5 MHz - @ 0.9 GHz","x":2.9,"y":-46.7},{"s":"5 MHz - @ 0.9 GHz","x":10.1,"y":-38.7},{"s":"5 MHz - @ 0.9 GHz","x":16.1,"y":-35.5},{"s":"5 MHz - @ 0.9 GHz","x":19.7,"y":-33.5},
    {"s":"5 MHz+ @ 0.9 GHz","x":-57.3,"y":-22.4},{"s":"5 MHz+ @ 0.9 GHz","x":-51.5,"y":-25.8},{"s":"5 MHz+ @ 0.9 GHz","x":-49.1,"y":-27.2},{"s":"5 MHz+ @ 0.9 GHz","x":-47.6,"y":-31.0},{"s":"5 MHz+ @ 0.9 GHz","x":-44.1,"y":-32.0},{"s":"5 MHz+ @ 0.9 GHz","x":-39.6,"y":-38.4},{"s":"5 MHz+ @ 0.9 GHz","x":-33.6,"y":-45.0},{"s":"5 MHz+ @ 0.9 GHz","x":-28.2,"y":-42.5},{"s":"5 MHz+ @ 0.9 GHz","x":-20.8,"y":-41.8},{"s":"5 MHz+ @ 0.9 GHz","x":-13.6,"y":-44.4},{"s":"5 MHz+ @ 0.9 GHz","x":-7.1,"y":-45.2},{"s":"5 MHz+ @ 0.9 GHz","x":-1.7,"y":-42.9},{"s":"5 MHz+ @ 0.9 GHz","x":2.9,"y":-45.9},{"s":"5 MHz+ @ 0.9 GHz","x":10.1,"y":-39.1},{"s":"5 MHz+ @ 0.9 GHz","x":15.8,"y":-37.6},{"s":"5 MHz+ @ 0.9 GHz","x":19.7,"y":-35.2},
    {"s":"10 MHz - @ 0.9 GHz","x":-57.3,"y":-23.0},{"s":"10 MHz - @ 0.9 GHz","x":-51.4,"y":-28.0},{"s":"10 MHz - @ 0.9 GHz","x":-45.2,"y":-35.3},{"s":"10 MHz - @ 0.9 GHz","x":-40.0,"y":-40.6},{"s":"10 MHz - @ 0.9 GHz","x":-33.6,"y":-45.6},{"s":"10 MHz - @ 0.9 GHz","x":-28.2,"y":-45.3},{"s":"10 MHz - @ 0.9 GHz","x":-20.8,"y":-48.8},{"s":"10 MHz - @ 0.9 GHz","x":-13.4,"y":-50.9},{"s":"10 MHz - @ 0.9 GHz","x":-6.8,"y":-51.1},{"s":"10 MHz - @ 0.9 GHz","x":-1.7,"y":-53.5},{"s":"10 MHz - @ 0.9 GHz","x":2.9,"y":-54.0},{"s":"10 MHz - @ 0.9 GHz","x":10.3,"y":-50.4},{"s":"10 MHz - @ 0.9 GHz","x":16.1,"y":-50.0},{"s":"10 MHz - @ 0.9 GHz","x":20.0,"y":-44.0},
    {"s":"10 MHz + @ 0.9 GHz","x":-57.3,"y":-23.5},{"s":"10 MHz + @ 0.9 GHz","x":-51.5,"y":-26.5},{"s":"10 MHz + @ 0.9 GHz","x":-45.2,"y":-34.2},{"s":"10 MHz + @ 0.9 GHz","x":-40.0,"y":-41.1},{"s":"10 MHz + @ 0.9 GHz","x":-33.6,"y":-44.8},{"s":"10 MHz + @ 0.9 GHz","x":-28.2,"y":-43.9},{"s":"10 MHz + @ 0.9 GHz","x":-20.8,"y":-46.5},{"s":"10 MHz + @ 0.9 GHz","x":-13.4,"y":-49.0},{"s":"10 MHz + @ 0.9 GHz","x":-6.8,"y":-50.0},{"s":"10 MHz + @ 0.9 GHz","x":-1.7,"y":-51.9},{"s":"10 MHz + @ 0.9 GHz","x":2.9,"y":-52.6},{"s":"10 MHz + @ 0.9 GHz","x":10.3,"y":-48.4},{"s":"10 MHz + @ 0.9 GHz","x":16.1,"y":-50.5},{"s":"10 MHz + @ 0.9 GHz","x":20.0,"y":-44.5},
    {"s":"5 MHz - @ 1.7 GHz","x":-57.3,"y":-22.3},{"s":"5 MHz - @ 1.7 GHz","x":-49.6,"y":-26.5},{"s":"5 MHz - @ 1.7 GHz","x":-44.1,"y":-32.5},{"s":"5 MHz - @ 1.7 GHz","x":-38.4,"y":-35.0},{"s":"5 MHz - @ 1.7 GHz","x":-33.6,"y":-37.3},{"s":"5 MHz - @ 1.7 GHz","x":-28.2,"y":-37.4},{"s":"5 MHz - @ 1.7 GHz","x":-20.8,"y":-39.0},{"s":"5 MHz - @ 1.7 GHz","x":-13.2,"y":-40.9},{"s":"5 MHz - @ 1.7 GHz","x":-5.7,"y":-39.4},{"s":"5 MHz - @ 1.7 GHz","x":-0.8,"y":-40.8},{"s":"5 MHz - @ 1.7 GHz","x":4.3,"y":-39.7},{"s":"5 MHz - @ 1.7 GHz","x":10.4,"y":-36.9},{"s":"5 MHz - @ 1.7 GHz","x":14.6,"y":-36.2},{"s":"5 MHz - @ 1.7 GHz","x":18.5,"y":-33.3},
    {"s":"5 MHz + @ 1.7 GHz","x":-57.0,"y":-21.6},{"s":"5 MHz + @ 1.7 GHz","x":-49.6,"y":-27.0},{"s":"5 MHz + @ 1.7 GHz","x":-44.1,"y":-31.9},{"s":"5 MHz + @ 1.7 GHz","x":-38.4,"y":-34.3},{"s":"5 MHz + @ 1.7 GHz","x":-33.1,"y":-36.8},{"s":"5 MHz + @ 1.7 GHz","x":-28.2,"y":-37.4},{"s":"5 MHz + @ 1.7 GHz","x":-20.4,"y":-38.9},{"s":"5 MHz + @ 1.7 GHz","x":-13.2,"y":-39.3},{"s":"5 MHz + @ 1.7 GHz","x":-5.7,"y":-38.0},{"s":"5 MHz + @ 1.7 GHz","x":-0.6,"y":-39.4},{"s":"5 MHz + @ 1.7 GHz","x":4.3,"y":-39.9},{"s":"5 MHz + @ 1.7 GHz","x":10.4,"y":-33.6},{"s":"5 MHz + @ 1.7 GHz","x":14.6,"y":-35.6},{"s":"5 MHz + @ 1.7 GHz","x":19.3,"y":-35.3},
    {"s":"10 MHz - @ 1.7 GHz","x":-57.3,"y":-23.3},{"s":"10 MHz - @ 1.7 GHz","x":-49.6,"y":-27.6},{"s":"10 MHz - @ 1.7 GHz","x":-44.1,"y":-33.2},{"s":"10 MHz - @ 1.7 GHz","x":-40.0,"y":-40.3},{"s":"10 MHz - @ 1.7 GHz","x":-33.1,"y":-42.0},{"s":"10 MHz - @ 1.7 GHz","x":-28.2,"y":-42.0},{"s":"10 MHz - @ 1.7 GHz","x":-20.8,"y":-45.7},{"s":"10 MHz - @ 1.7 GHz","x":-13.4,"y":-47.9},{"s":"10 MHz - @ 1.7 GHz","x":-5.8,"y":-47.5},{"s":"10 MHz - @ 1.7 GHz","x":-0.6,"y":-48.6},{"s":"10 MHz - @ 1.7 GHz","x":4.4,"y":-47.0},{"s":"10 MHz - @ 1.7 GHz","x":10.3,"y":-46.7},{"s":"10 MHz - @ 1.7 GHz","x":14.8,"y":-45.8},{"s":"10 MHz - @ 1.7 GHz","x":18.6,"y":-43.5},
    {"s":"10 MHz + @ 1.7 GHz","x":-57.3,"y":-24.0},{"s":"10 MHz + @ 1.7 GHz","x":-49.6,"y":-28.0},{"s":"10 MHz + @ 1.7 GHz","x":-44.1,"y":-33.4},{"s":"10 MHz + @ 1.7 GHz","x":-38.6,"y":-37.1},{"s":"10 MHz + @ 1.7 GHz","x":-33.1,"y":-41.2},{"s":"10 MHz + @ 1.7 GHz","x":-28.2,"y":-41.7},{"s":"10 MHz + @ 1.7 GHz","x":-20.8,"y":-43.6},{"s":"10 MHz + @ 1.7 GHz","x":-13.4,"y":-46.6},{"s":"10 MHz + @ 1.7 GHz","x":-5.8,"y":-47.0},{"s":"10 MHz + @ 1.7 GHz","x":-0.6,"y":-48.0},{"s":"10 MHz + @ 1.7 GHz","x":4.4,"y":-47.0},{"s":"10 MHz + @ 1.7 GHz","x":10.3,"y":-44.9},{"s":"10 MHz + @ 1.7 GHz","x":14.8,"y":-44.9},{"s":"10 MHz + @ 1.7 GHz","x":18.6,"y":-43.7}
   ]},
   "resolve":{"axis":{"x":"independent","y":"independent"}},
   "layer":[
    {"layer":[
    {"data":{"values":[{"x":-59.3,"y":-22.4,"x2":-31.3,"y2":-51.4},{"x":-60,"y":-21.8,"x2":-39.5,"y2":-42.9}]},
     "mark":{"type":"rule","color":"#8a8a8a","strokeWidth":2,"strokeDash":[10,4,2,4]},
     "encoding":{
      "x":{"field":"x","type":"quantitative","scale":{"domain":[-60,25],"nice":false,"zero":false},
           "axis":{"title":"Output Power (dBm)","grid":false,"tickCount":1000,"values":[-60,-55,-50,-45,-40,-35,-30,-25,-20,-15,-10,-5,0,5,10,15,20,25],"labelExpr":"datum.value%10==0 ? ''+datum.value : ''","tickSize":{"condition":{"test":"datum.value%10==0","value":5},"value":3},"titlePadding":14}},
      "x2":{"field":"x2"},
      "y":{"field":"y","type":"quantitative","scale":{"domain":[-55,-20],"nice":false,"zero":false},
           "axis":{"title":"ACLR (dBc)","grid":false,"tickCount":1000,"values":[-55,-52.5,-50,-47.5,-45,-42.5,-40,-37.5,-35,-32.5,-30,-27.5,-25,-22.5,-20],"labelExpr":"datum.value%5==0 ? ''+datum.value : ''","tickSize":{"condition":{"test":"datum.value%5==0","value":5},"value":3},"titlePadding":10}},
      "y2":{"field":"y2"}}},
    {"data":{"values":[{"x":-38.8,"y":-46.8,"t":"noise floor"}]},
     "mark":{"type":"text","fontSize":14,"fontWeight":"bold","color":"#8a8a8a","angle":61},
     "encoding":{"x":{"field":"x","type":"quantitative","scale":{"domain":[-60,25],"nice":false,"zero":false}},"y":{"field":"y","type":"quantitative","scale":{"domain":[-55,-20],"nice":false,"zero":false}},"text":{"field":"t"}}},
    {"data":{"values":[{"x":-15.7,"y":-32.55,"x2":31.6,"y2":-32.55},{"x":-6.85,"y":-42.6,"x2":31.6,"y2":-42.6},{"x":-15.7,"y":-32.55,"x2":-6.85,"y2":-42.6}]},
     "mark":{"type":"rule","color":"#8a8a8a","strokeWidth":1.5,"strokeDash":[2,2]},
     "encoding":{"x":{"field":"x","type":"quantitative","scale":{"domain":[-60,25],"nice":false,"zero":false}},"x2":{"field":"x2"},"y":{"field":"y","type":"quantitative","scale":{"domain":[-55,-20],"nice":false,"zero":false}},"y2":{"field":"y2"}}},
    {"data":{"values":[{"x":-16.4,"y":-35.3,"t":"-50 dBm"}]},
     "mark":{"type":"text","fontSize":10,"fontWeight":"bold","color":"#9a9a9a","angle":63},
     "encoding":{"x":{"field":"x","type":"quantitative","scale":{"domain":[-60,25],"nice":false,"zero":false}},"y":{"field":"y","type":"quantitative","scale":{"domain":[-55,-20],"nice":false,"zero":false}},"text":{"field":"t"}}},
    {"data":{"values":[{"x":32.1,"y":-34.5,"t":"5-MHz"},{"x":32.1,"y":-36.9,"t":"spec."},{"x":32.6,"y":-44.0,"t":"10-MHz"},{"x":32.6,"y":-46.4,"t":"spec."}]},
     "mark":{"type":"text","fontSize":13,"fontWeight":"bold","color":"#808080"},
     "encoding":{"x":{"field":"x","type":"quantitative","scale":{"domain":[-60,25],"nice":false,"zero":false}},"y":{"field":"y","type":"quantitative","scale":{"domain":[-55,-20],"nice":false,"zero":false}},"text":{"field":"t"}}},
    {"data":{"values":[{"x":-50,"y":-27,"y2":-55},{"x":20,"y":-31,"y2":-55}]},
     "mark":{"type":"rule","color":"#333","strokeWidth":1.5,"strokeDash":[9,5]},
     "encoding":{"x":{"field":"x","type":"quantitative","scale":{"domain":[-60,25],"nice":false,"zero":false}},"y":{"field":"y","type":"quantitative","scale":{"domain":[-55,-20],"nice":false,"zero":false}},"y2":{"field":"y2"}}},
    {"mark":{"type":"line","strokeWidth":1.8},
     "encoding":{
      "x":{"field":"x","type":"quantitative","scale":{"domain":[-60,25],"nice":false,"zero":false}},
      "y":{"field":"y","type":"quantitative","scale":{"domain":[-55,-20],"nice":false,"zero":false}},
      "color":{"field":"s","type":"nominal","scale":{"domain":["5 MHz - @ 0.9 GHz","5 MHz+ @ 0.9 GHz","10 MHz - @ 0.9 GHz","10 MHz + @ 0.9 GHz","5 MHz - @ 1.7 GHz","5 MHz + @ 1.7 GHz","10 MHz - @ 1.7 GHz","10 MHz + @ 1.7 GHz"],"range":["#000","#000","#808080","#808080","#000","#000","#a0a0a0","#a0a0a0"]},
               "legend":{"orient":"none","legendX":75,"legendY":7,"title":null,"padding":0,"columns":2,"columnPadding":2,"gridAlign":"all","rowPadding":3,"labelFontSize":11,"symbolType":"M-6.75,0H6.75","symbolSize":16,"symbolStrokeWidth":1.8,"symbolOffset":8,"labelOffset":10}}}},
    {"mark":{"type":"point","filled":true,"size":40,"strokeWidth":1.2,"opacity":1},
     "encoding":{
      "x":{"field":"x","type":"quantitative","scale":{"domain":[-60,25],"nice":false,"zero":false}},
      "y":{"field":"y","type":"quantitative","scale":{"domain":[-55,-20],"nice":false,"zero":false}},
      "shape":{"field":"s","type":"nominal","sort":null,"scale":{"range":["circle","triangle-up","square","triangle-down","circle","triangle-up","square","triangle-down"]},"legend":{"orient":"none","legendX":75,"legendY":7,"title":null,"padding":0,"columns":2,"columnPadding":2,"gridAlign":"all","rowPadding":3,"labelFontSize":11,"symbolSize":36,"symbolStrokeWidth":1.2,"symbolOffset":8,"labelOffset":10,"labelOpacity":0}},
      "fill":{"field":"s","type":"nominal","sort":null,"scale":{"range":["#000","#000","#808080","#808080","#fff","#fff","#fff","#fff"]},"legend":{"orient":"none","legendX":75,"legendY":7,"title":null,"padding":0,"columns":2,"columnPadding":2,"gridAlign":"all","rowPadding":3,"labelFontSize":11,"symbolSize":36,"symbolStrokeWidth":1.2,"symbolOffset":8,"labelOffset":10,"labelOpacity":0}},
      "stroke":{"field":"s","type":"nominal","sort":null,"scale":{"range":["#000","#000","#808080","#808080","#000","#000","#a0a0a0","#a0a0a0"]},"legend":{"orient":"none","legendX":75,"legendY":7,"title":null,"padding":0,"columns":2,"columnPadding":2,"gridAlign":"all","rowPadding":3,"labelFontSize":11,"symbolSize":36,"symbolStrokeWidth":1.2,"symbolOffset":8,"labelOffset":10,"labelOpacity":0}}}},
    {"data":{"values":[{"x":-49.5,"x2":19,"y":-31}]},
     "mark":{"type":"rule","color":"#111","strokeWidth":1.5},
     "encoding":{"x":{"field":"x","type":"quantitative","scale":{"domain":[-60,25],"nice":false,"zero":false}},"x2":{"field":"x2"},"y":{"field":"y","type":"quantitative","scale":{"domain":[-55,-20],"nice":false,"zero":false}}}},
    {"data":{"values":[{"x":18.6,"y":-31}]},
     "mark":{"type":"point","shape":"triangle-right","size":70,"filled":true,"color":"#111","opacity":1},
     "encoding":{"x":{"field":"x","type":"quantitative","scale":{"domain":[-60,25],"nice":false,"zero":false}},"y":{"field":"y","type":"quantitative","scale":{"domain":[-55,-20],"nice":false,"zero":false}}}},
    {"data":{"values":[{"x":-14.3,"y":-29.75,"t":"Digital TPC Range : 69.8 / 68.7 dB"},{"x":-14.3,"y":-32.25,"t":"at 0.9 / 1.7GHz"}]},
     "mark":{"type":"text","fontSize":14,"fontWeight":"bold","color":"#111"},
     "encoding":{"x":{"field":"x","type":"quantitative","scale":{"domain":[-60,25],"nice":false,"zero":false}},"y":{"field":"y","type":"quantitative","scale":{"domain":[-55,-20],"nice":false,"zero":false}},"text":{"field":"t"}}}
    ]},
    {"mark":{"type":"point","opacity":0},
     "encoding":{
      "x":{"field":"x","type":"quantitative","scale":{"domain":[-60,25],"nice":false,"zero":false},"axis":{"orient":"top","labels":false,"title":null,"grid":false,"tickCount":1000,"values":[-60,-55,-50,-45,-40,-35,-30,-25,-20,-15,-10,-5,0,5,10,15,20,25],"tickSize":{"condition":{"test":"datum.value%10==0","value":5},"value":3}}},
      "y":{"field":"y","type":"quantitative","scale":{"domain":[-55,-20],"nice":false,"zero":false},"axis":{"orient":"right","labels":false,"title":null,"grid":false,"tickCount":1000,"values":[-55,-52.5,-50,-47.5,-45,-42.5,-40,-37.5,-35,-32.5,-30,-27.5,-25,-22.5,-20],"tickSize":{"condition":{"test":"datum.value%5==0","value":5},"value":3}}}}}
   ]},
  {"width":376,"height":270,
   "title":{"text":"(f)","dx":12,"offset":28},
   "data":{"values":[
    {"s":"f\u2080: 0.9 GHz","x":-52.6,"y":5.4},{"s":"f\u2080: 0.9 GHz","x":-45.3,"y":2.6},{"s":"f\u2080: 0.9 GHz","x":-40.0,"y":1.6},{"s":"f\u2080: 0.9 GHz","x":-33.5,"y":1.35},{"s":"f\u2080: 0.9 GHz","x":-28.4,"y":1.85},{"s":"f\u2080: 0.9 GHz","x":-20.8,"y":2.0},{"s":"f\u2080: 0.9 GHz","x":-13.5,"y":1.8},{"s":"f\u2080: 0.9 GHz","x":-7.3,"y":0.95},{"s":"f\u2080: 0.9 GHz","x":-1.9,"y":0.95},{"s":"f\u2080: 0.9 GHz","x":3.0,"y":0.9},{"s":"f\u2080: 0.9 GHz","x":10.2,"y":1.55},{"s":"f\u2080: 0.9 GHz","x":15.8,"y":2.2},{"s":"f\u2080: 0.9 GHz","x":20.0,"y":2.95},
    {"s":"f\u2080: 1.7 GHz","x":-57.5,"y":8.95},{"s":"f\u2080: 1.7 GHz","x":-49.8,"y":4.5},{"s":"f\u2080: 1.7 GHz","x":-44.3,"y":2.65},{"s":"f\u2080: 1.7 GHz","x":-38.8,"y":1.7},{"s":"f\u2080: 1.7 GHz","x":-33.3,"y":1.65},{"s":"f\u2080: 1.7 GHz","x":-28.4,"y":1.55},{"s":"f\u2080: 1.7 GHz","x":-20.9,"y":1.45},{"s":"f\u2080: 1.7 GHz","x":-13.8,"y":1.35},{"s":"f\u2080: 1.7 GHz","x":-5.6,"y":0.9},{"s":"f\u2080: 1.7 GHz","x":-0.6,"y":0.95},{"s":"f\u2080: 1.7 GHz","x":4.6,"y":1.25},{"s":"f\u2080: 1.7 GHz","x":10.6,"y":2.1},{"s":"f\u2080: 1.7 GHz","x":14.9,"y":1.95},{"s":"f\u2080: 1.7 GHz","x":18.5,"y":3.2}
   ]},
   "resolve":{"axis":{"x":"independent","y":"independent"}},
   "layer":[
    {"layer":[
    {"data":{"values":[{"x":-50,"y":13.5,"y2":0},{"x":19.8,"y":14.3,"y2":0}]},
     "mark":{"type":"rule","color":"#444","strokeWidth":1.2,"strokeDash":[8,3,2,3]},
     "encoding":{
      "x":{"field":"x","type":"quantitative","scale":{"domain":[-61.4,26],"nice":false,"zero":false},
           "axis":{"title":"Output Power (dBm)","tickCount":1000,"values":[-60,-55,-50,-45,-40,-35,-30,-25,-20,-15,-10,-5,0,5,10,15,20,25],"labelExpr":"datum.value%10==0 ? ''+datum.value : ''","tickSize":{"condition":{"test":"datum.value%10==0","value":5},"value":3},"gridOpacity":{"condition":{"test":"datum.value%10==0","value":1},"value":0},"titlePadding":14}},
      "y":{"field":"y","type":"quantitative","scale":{"domain":[0,20],"nice":false,"zero":false},
           "axis":{"title":"EVM\u00a0\u00a0(%)","tickCount":1000,"values":[0,1,2,3,4,5,6,7,8,9,10,11,12,13,14,15,16,17,18,19,20],"labelExpr":"datum.value%2==0 ? ''+datum.value : ''","tickSize":{"condition":{"test":"datum.value%2==0","value":5},"value":3},"gridOpacity":{"condition":{"test":"datum.value%2==0","value":1},"value":0},"titlePadding":8}},
      "y2":{"field":"y2"}}},
    {"data":{"values":[{"x":-20.1,"x2":26,"y":17.5}]},
     "mark":{"type":"rule","color":"#999","strokeWidth":1.5,"strokeDash":[4,3]},
     "encoding":{"x":{"field":"x","type":"quantitative","scale":{"domain":[-61.4,26],"nice":false,"zero":false}},"x2":{"field":"x2"},"y":{"field":"y","type":"quantitative","scale":{"domain":[0,20],"nice":false,"zero":false}}}},
    {"data":{"values":[{"x":10.2,"y":18.5,"t":"System spec."}]},
     "mark":{"type":"text","fontSize":12,"fontWeight":"bold","color":"#888"},
     "encoding":{"x":{"field":"x","type":"quantitative","scale":{"domain":[-61.4,26],"nice":false,"zero":false}},"y":{"field":"y","type":"quantitative","scale":{"domain":[0,20],"nice":false,"zero":false}},"text":{"field":"t"}}},
    {"data":{"values":[{"x":-49,"x2":19,"y":10.5}]},
     "mark":{"type":"rule","color":"#111","strokeWidth":1.5},
     "encoding":{"x":{"field":"x","type":"quantitative","scale":{"domain":[-61.4,26],"nice":false,"zero":false}},"x2":{"field":"x2"},"y":{"field":"y","type":"quantitative","scale":{"domain":[0,20],"nice":false,"zero":false}}}},
    {"data":{"values":[{"x":18.4,"y":10.5}]},
     "mark":{"type":"point","shape":"triangle-right","size":60,"filled":true,"color":"#111","opacity":1},
     "encoding":{"x":{"field":"x","type":"quantitative","scale":{"domain":[-61.4,26],"nice":false,"zero":false}},"y":{"field":"y","type":"quantitative","scale":{"domain":[0,20],"nice":false,"zero":false}}}},
    {"data":{"values":[{"x":-48.4,"y":10.5}]},
     "mark":{"type":"point","shape":"triangle-left","size":60,"filled":true,"color":"#111","opacity":1},
     "encoding":{"x":{"field":"x","type":"quantitative","scale":{"domain":[-61.4,26],"nice":false,"zero":false}},"y":{"field":"y","type":"quantitative","scale":{"domain":[0,20],"nice":false,"zero":false}}}},
    {"data":{"values":[{"x":-15.2,"y":11.25,"t":"Digital TPC Range : 69.8 / 68.7 dB"},{"x":-15.2,"y":9.7,"t":"at 0.9 / 1.7GHz"}]},
     "mark":{"type":"text","fontSize":14,"fontWeight":"bold","color":"#111"},
     "encoding":{"x":{"field":"x","type":"quantitative","scale":{"domain":[-61.4,26],"nice":false,"zero":false}},"y":{"field":"y","type":"quantitative","scale":{"domain":[0,20],"nice":false,"zero":false}},"text":{"field":"t"}}},
    {"mark":{"type":"line","strokeWidth":2.2},
     "encoding":{
      "x":{"field":"x","type":"quantitative","scale":{"domain":[-61.4,26],"nice":false,"zero":false}},
      "y":{"field":"y","type":"quantitative","scale":{"domain":[0,20],"nice":false,"zero":false}},
      "color":{"field":"s","type":"nominal","scale":{"domain":["f\u2080: 0.9 GHz","f\u2080: 1.7 GHz"],"range":["#000","#000"]},
               "legend":{"orient":"none","legendX":33,"legendY":25,"title":null,"padding":0,"rowPadding":10,"labelFontSize":14,"symbolType":"M-5.25,0H5.25","symbolSize":16,"symbolStrokeWidth":2.2,"symbolOffset":3.5,"labelOffset":5}}}},
    {"mark":{"type":"point","filled":true,"size":36,"strokeWidth":1.2,"opacity":1},
     "encoding":{
      "x":{"field":"x","type":"quantitative","scale":{"domain":[-61.4,26],"nice":false,"zero":false}},
      "y":{"field":"y","type":"quantitative","scale":{"domain":[0,20],"nice":false,"zero":false}},
      "shape":{"field":"s","type":"nominal","sort":null,"scale":{"range":["square","circle"]},"legend":{"orient":"none","legendX":33,"legendY":25,"title":null,"padding":0,"rowPadding":10,"labelFontSize":14,"symbolSize":30,"symbolStrokeWidth":1.2,"symbolOffset":3.5,"labelOffset":5,"labelExpr":"''"}},
      "fill":{"field":"s","type":"nominal","sort":null,"scale":{"range":["#000","#fff"]},"legend":{"orient":"none","legendX":33,"legendY":25,"title":null,"padding":0,"rowPadding":10,"labelFontSize":14,"symbolSize":30,"symbolStrokeWidth":1.2,"symbolOffset":3.5,"labelOffset":5,"labelExpr":"''"}},
      "stroke":{"field":"s","type":"nominal","sort":null,"scale":{"range":["#000","#000"]},"legend":{"orient":"none","legendX":33,"legendY":25,"title":null,"padding":0,"rowPadding":10,"labelFontSize":14,"symbolSize":30,"symbolStrokeWidth":1.2,"symbolOffset":3.5,"labelOffset":5,"labelExpr":"''"}}}}
    ]},
    {"mark":{"type":"point","opacity":0},
     "encoding":{
      "x":{"field":"x","type":"quantitative","scale":{"domain":[-61.4,26],"nice":false,"zero":false},"axis":{"orient":"top","labels":false,"title":null,"grid":false,"tickCount":1000,"values":[-60,-55,-50,-45,-40,-35,-30,-25,-20,-15,-10,-5,0,5,10,15,20,25],"tickSize":{"condition":{"test":"datum.value%10==0","value":5},"value":3}}},
      "y":{"field":"y","type":"quantitative","scale":{"domain":[0,20],"nice":false,"zero":false},"axis":{"orient":"right","labels":false,"title":null,"grid":false,"tickCount":1000,"values":[0,1,2,3,4,5,6,7,8,9,10,11,12,13,14,15,16,17,18,19,20],"tickSize":{"condition":{"test":"datum.value%2==0","value":5},"value":3}}}}}
   ]}
 ]
 }
 ]
}
]
}
